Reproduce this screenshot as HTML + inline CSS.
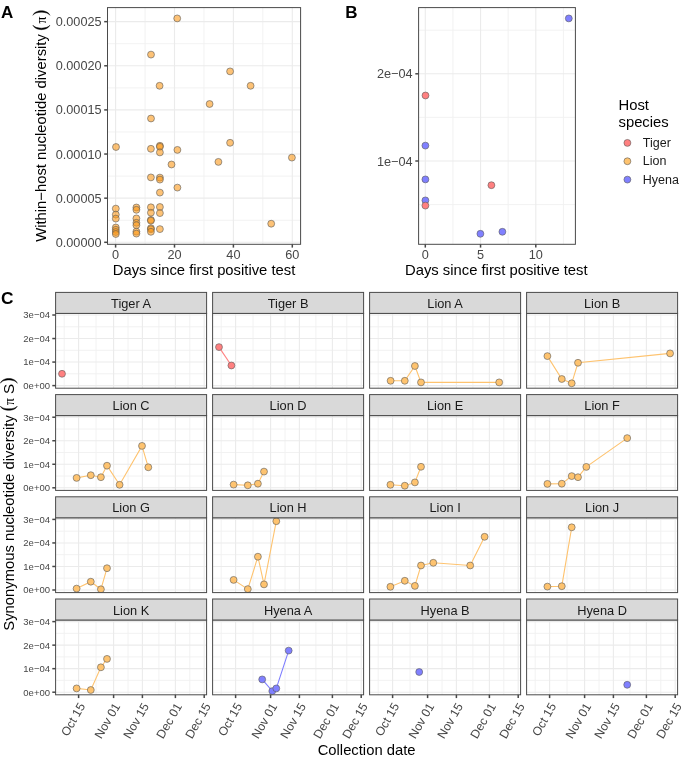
<!DOCTYPE html>
<html><head><meta charset="utf-8"><style>
html,body{margin:0;padding:0;background:#fff;}
body{width:685px;height:764px;overflow:hidden;}
svg{display:block;}
#w{will-change:transform;width:685px;height:764px;}
</style></head><body><div id="w">
<svg width="685" height="764" viewBox="0 0 685 764">
<rect width="685" height="764" fill="#fff"/>
<text x="1" y="18" font-family='"Liberation Sans", sans-serif' font-size="17" fill="#000" text-anchor="start" font-weight="bold" >A</text>
<text x="345.2" y="18" font-family='"Liberation Sans", sans-serif' font-size="17" fill="#000" text-anchor="start" font-weight="bold" >B</text>
<text x="1.1" y="304.4" font-family='"Liberation Sans", sans-serif' font-size="17.3" fill="#000" text-anchor="start" font-weight="bold" >C</text>
<line x1="145.05" y1="7.6" x2="145.05" y2="244.3" stroke="#F0F0F0" stroke-width="0.9"/>
<line x1="203.95" y1="7.6" x2="203.95" y2="244.3" stroke="#F0F0F0" stroke-width="0.9"/>
<line x1="262.85" y1="7.6" x2="262.85" y2="244.3" stroke="#F0F0F0" stroke-width="0.9"/>
<line x1="107.5" y1="220.24" x2="300.6" y2="220.24" stroke="#F0F0F0" stroke-width="0.9"/>
<line x1="107.5" y1="176.11" x2="300.6" y2="176.11" stroke="#F0F0F0" stroke-width="0.9"/>
<line x1="107.5" y1="131.98" x2="300.6" y2="131.98" stroke="#F0F0F0" stroke-width="0.9"/>
<line x1="107.5" y1="87.84" x2="300.6" y2="87.84" stroke="#F0F0F0" stroke-width="0.9"/>
<line x1="107.5" y1="43.72" x2="300.6" y2="43.72" stroke="#F0F0F0" stroke-width="0.9"/>
<line x1="115.6" y1="7.6" x2="115.6" y2="244.3" stroke="#EBEBEB" stroke-width="1.1"/>
<line x1="174.5" y1="7.6" x2="174.5" y2="244.3" stroke="#EBEBEB" stroke-width="1.1"/>
<line x1="233.4" y1="7.6" x2="233.4" y2="244.3" stroke="#EBEBEB" stroke-width="1.1"/>
<line x1="292.3" y1="7.6" x2="292.3" y2="244.3" stroke="#EBEBEB" stroke-width="1.1"/>
<line x1="107.5" y1="242.3" x2="300.6" y2="242.3" stroke="#EBEBEB" stroke-width="1.1"/>
<line x1="107.5" y1="198.17" x2="300.6" y2="198.17" stroke="#EBEBEB" stroke-width="1.1"/>
<line x1="107.5" y1="154.04" x2="300.6" y2="154.04" stroke="#EBEBEB" stroke-width="1.1"/>
<line x1="107.5" y1="109.91" x2="300.6" y2="109.91" stroke="#EBEBEB" stroke-width="1.1"/>
<line x1="107.5" y1="65.78" x2="300.6" y2="65.78" stroke="#EBEBEB" stroke-width="1.1"/>
<line x1="107.5" y1="21.65" x2="300.6" y2="21.65" stroke="#EBEBEB" stroke-width="1.1"/>
<circle cx="177.2" cy="18.4" r="3.45" fill="#FB9A1A" fill-opacity="0.6" stroke="#5A5A5A" stroke-width="0.6"/>
<circle cx="151" cy="54.6" r="3.45" fill="#FB9A1A" fill-opacity="0.6" stroke="#5A5A5A" stroke-width="0.6"/>
<circle cx="159.6" cy="85.8" r="3.45" fill="#FB9A1A" fill-opacity="0.6" stroke="#5A5A5A" stroke-width="0.6"/>
<circle cx="151" cy="118.5" r="3.45" fill="#FB9A1A" fill-opacity="0.6" stroke="#5A5A5A" stroke-width="0.6"/>
<circle cx="209.6" cy="104" r="3.45" fill="#FB9A1A" fill-opacity="0.6" stroke="#5A5A5A" stroke-width="0.6"/>
<circle cx="230.1" cy="71.4" r="3.45" fill="#FB9A1A" fill-opacity="0.6" stroke="#5A5A5A" stroke-width="0.6"/>
<circle cx="250.6" cy="85.8" r="3.45" fill="#FB9A1A" fill-opacity="0.6" stroke="#5A5A5A" stroke-width="0.6"/>
<circle cx="116" cy="147" r="3.45" fill="#FB9A1A" fill-opacity="0.6" stroke="#5A5A5A" stroke-width="0.6"/>
<circle cx="150.9" cy="148.8" r="3.45" fill="#FB9A1A" fill-opacity="0.6" stroke="#5A5A5A" stroke-width="0.6"/>
<circle cx="159.9" cy="145.8" r="3.45" fill="#FB9A1A" fill-opacity="0.6" stroke="#5A5A5A" stroke-width="0.6"/>
<circle cx="159.9" cy="146.8" r="3.45" fill="#FB9A1A" fill-opacity="0.6" stroke="#5A5A5A" stroke-width="0.6"/>
<circle cx="159.9" cy="152.4" r="3.45" fill="#FB9A1A" fill-opacity="0.6" stroke="#5A5A5A" stroke-width="0.6"/>
<circle cx="177.4" cy="149.9" r="3.45" fill="#FB9A1A" fill-opacity="0.6" stroke="#5A5A5A" stroke-width="0.6"/>
<circle cx="171.5" cy="164.5" r="3.45" fill="#FB9A1A" fill-opacity="0.6" stroke="#5A5A5A" stroke-width="0.6"/>
<circle cx="218.4" cy="161.9" r="3.45" fill="#FB9A1A" fill-opacity="0.6" stroke="#5A5A5A" stroke-width="0.6"/>
<circle cx="230.1" cy="142.8" r="3.45" fill="#FB9A1A" fill-opacity="0.6" stroke="#5A5A5A" stroke-width="0.6"/>
<circle cx="150.9" cy="177.4" r="3.45" fill="#FB9A1A" fill-opacity="0.6" stroke="#5A5A5A" stroke-width="0.6"/>
<circle cx="159.9" cy="177.6" r="3.45" fill="#FB9A1A" fill-opacity="0.6" stroke="#5A5A5A" stroke-width="0.6"/>
<circle cx="159.9" cy="179.6" r="3.45" fill="#FB9A1A" fill-opacity="0.6" stroke="#5A5A5A" stroke-width="0.6"/>
<circle cx="177.4" cy="187.6" r="3.45" fill="#FB9A1A" fill-opacity="0.6" stroke="#5A5A5A" stroke-width="0.6"/>
<circle cx="291.9" cy="157.6" r="3.45" fill="#FB9A1A" fill-opacity="0.6" stroke="#5A5A5A" stroke-width="0.6"/>
<circle cx="271.2" cy="223.7" r="3.45" fill="#FB9A1A" fill-opacity="0.6" stroke="#5A5A5A" stroke-width="0.6"/>
<circle cx="115.8" cy="208.6" r="3.45" fill="#FB9A1A" fill-opacity="0.6" stroke="#5A5A5A" stroke-width="0.6"/>
<circle cx="115.8" cy="214.6" r="3.45" fill="#FB9A1A" fill-opacity="0.6" stroke="#5A5A5A" stroke-width="0.6"/>
<circle cx="115.8" cy="218.6" r="3.45" fill="#FB9A1A" fill-opacity="0.6" stroke="#5A5A5A" stroke-width="0.6"/>
<circle cx="115.8" cy="227.5" r="3.45" fill="#FB9A1A" fill-opacity="0.6" stroke="#5A5A5A" stroke-width="0.6"/>
<circle cx="115.8" cy="229.8" r="3.45" fill="#FB9A1A" fill-opacity="0.6" stroke="#5A5A5A" stroke-width="0.6"/>
<circle cx="115.8" cy="232" r="3.45" fill="#FB9A1A" fill-opacity="0.6" stroke="#5A5A5A" stroke-width="0.6"/>
<circle cx="115.8" cy="234" r="3.45" fill="#FB9A1A" fill-opacity="0.6" stroke="#5A5A5A" stroke-width="0.6"/>
<circle cx="136.4" cy="207.5" r="3.45" fill="#FB9A1A" fill-opacity="0.6" stroke="#5A5A5A" stroke-width="0.6"/>
<circle cx="136.4" cy="209.8" r="3.45" fill="#FB9A1A" fill-opacity="0.6" stroke="#5A5A5A" stroke-width="0.6"/>
<circle cx="136.4" cy="218.4" r="3.45" fill="#FB9A1A" fill-opacity="0.6" stroke="#5A5A5A" stroke-width="0.6"/>
<circle cx="136.4" cy="222.8" r="3.45" fill="#FB9A1A" fill-opacity="0.6" stroke="#5A5A5A" stroke-width="0.6"/>
<circle cx="136.4" cy="225.2" r="3.45" fill="#FB9A1A" fill-opacity="0.6" stroke="#5A5A5A" stroke-width="0.6"/>
<circle cx="136.4" cy="231.6" r="3.45" fill="#FB9A1A" fill-opacity="0.6" stroke="#5A5A5A" stroke-width="0.6"/>
<circle cx="136.4" cy="233.6" r="3.45" fill="#FB9A1A" fill-opacity="0.6" stroke="#5A5A5A" stroke-width="0.6"/>
<circle cx="150.9" cy="207.3" r="3.45" fill="#FB9A1A" fill-opacity="0.6" stroke="#5A5A5A" stroke-width="0.6"/>
<circle cx="150.9" cy="212.7" r="3.45" fill="#FB9A1A" fill-opacity="0.6" stroke="#5A5A5A" stroke-width="0.6"/>
<circle cx="150.9" cy="219.9" r="3.45" fill="#FB9A1A" fill-opacity="0.6" stroke="#5A5A5A" stroke-width="0.6"/>
<circle cx="150.9" cy="220.7" r="3.45" fill="#FB9A1A" fill-opacity="0.6" stroke="#5A5A5A" stroke-width="0.6"/>
<circle cx="150.9" cy="228.2" r="3.45" fill="#FB9A1A" fill-opacity="0.6" stroke="#5A5A5A" stroke-width="0.6"/>
<circle cx="150.9" cy="229.2" r="3.45" fill="#FB9A1A" fill-opacity="0.6" stroke="#5A5A5A" stroke-width="0.6"/>
<circle cx="150.9" cy="231.8" r="3.45" fill="#FB9A1A" fill-opacity="0.6" stroke="#5A5A5A" stroke-width="0.6"/>
<circle cx="159.9" cy="192.6" r="3.45" fill="#FB9A1A" fill-opacity="0.6" stroke="#5A5A5A" stroke-width="0.6"/>
<circle cx="159.9" cy="207" r="3.45" fill="#FB9A1A" fill-opacity="0.6" stroke="#5A5A5A" stroke-width="0.6"/>
<circle cx="159.9" cy="213.1" r="3.45" fill="#FB9A1A" fill-opacity="0.6" stroke="#5A5A5A" stroke-width="0.6"/>
<circle cx="159.9" cy="229.1" r="3.45" fill="#FB9A1A" fill-opacity="0.6" stroke="#5A5A5A" stroke-width="0.6"/>
<rect x="107.5" y="7.6" width="193.1" height="236.7" fill="none" stroke="#4A4A4A" stroke-width="1.0"/>
<line x1="104.2" y1="242.3" x2="107.5" y2="242.3" stroke="#474747" stroke-width="1.5"/>
<text x="101.6" y="246.85" font-family='"Liberation Sans", sans-serif' font-size="12.7" fill="#474747" text-anchor="end" font-weight="normal" >0.00000</text>
<line x1="104.2" y1="198.17" x2="107.5" y2="198.17" stroke="#474747" stroke-width="1.5"/>
<text x="101.6" y="202.72" font-family='"Liberation Sans", sans-serif' font-size="12.7" fill="#474747" text-anchor="end" font-weight="normal" >0.00005</text>
<line x1="104.2" y1="154.04" x2="107.5" y2="154.04" stroke="#474747" stroke-width="1.5"/>
<text x="101.6" y="158.59" font-family='"Liberation Sans", sans-serif' font-size="12.7" fill="#474747" text-anchor="end" font-weight="normal" >0.00010</text>
<line x1="104.2" y1="109.91" x2="107.5" y2="109.91" stroke="#474747" stroke-width="1.5"/>
<text x="101.6" y="114.46" font-family='"Liberation Sans", sans-serif' font-size="12.7" fill="#474747" text-anchor="end" font-weight="normal" >0.00015</text>
<line x1="104.2" y1="65.78" x2="107.5" y2="65.78" stroke="#474747" stroke-width="1.5"/>
<text x="101.6" y="70.33" font-family='"Liberation Sans", sans-serif' font-size="12.7" fill="#474747" text-anchor="end" font-weight="normal" >0.00020</text>
<line x1="104.2" y1="21.65" x2="107.5" y2="21.65" stroke="#474747" stroke-width="1.5"/>
<text x="101.6" y="26.2" font-family='"Liberation Sans", sans-serif' font-size="12.7" fill="#474747" text-anchor="end" font-weight="normal" >0.00025</text>
<line x1="115.6" y1="244.3" x2="115.6" y2="247.6" stroke="#474747" stroke-width="1.5"/>
<text x="115.6" y="259" font-family='"Liberation Sans", sans-serif' font-size="12.7" fill="#474747" text-anchor="middle" font-weight="normal" >0</text>
<line x1="174.5" y1="244.3" x2="174.5" y2="247.6" stroke="#474747" stroke-width="1.5"/>
<text x="174.5" y="259" font-family='"Liberation Sans", sans-serif' font-size="12.7" fill="#474747" text-anchor="middle" font-weight="normal" >20</text>
<line x1="233.4" y1="244.3" x2="233.4" y2="247.6" stroke="#474747" stroke-width="1.5"/>
<text x="233.4" y="259" font-family='"Liberation Sans", sans-serif' font-size="12.7" fill="#474747" text-anchor="middle" font-weight="normal" >40</text>
<line x1="292.3" y1="244.3" x2="292.3" y2="247.6" stroke="#474747" stroke-width="1.5"/>
<text x="292.3" y="259" font-family='"Liberation Sans", sans-serif' font-size="12.7" fill="#474747" text-anchor="middle" font-weight="normal" >60</text>
<text x="204" y="274.6" font-family='"Liberation Sans", sans-serif' font-size="14.8" fill="#000" text-anchor="middle" font-weight="normal" >Days since first positive test</text>
<g transform="translate(45.6,241.8) rotate(-90)">
<text x="0" y="0" font-family='"Liberation Sans", sans-serif' font-size="14.8" fill="#000" text-anchor="start" font-weight="normal" >Within−host nucleotide diversity</text>
</g>
<line x1="452.93" y1="7.6" x2="452.93" y2="244.3" stroke="#F0F0F0" stroke-width="0.9"/>
<line x1="508.18" y1="7.6" x2="508.18" y2="244.3" stroke="#F0F0F0" stroke-width="0.9"/>
<line x1="563.42" y1="7.6" x2="563.42" y2="244.3" stroke="#F0F0F0" stroke-width="0.9"/>
<line x1="418.6" y1="204.6" x2="575.4" y2="204.6" stroke="#F0F0F0" stroke-width="0.9"/>
<line x1="418.6" y1="117.4" x2="575.4" y2="117.4" stroke="#F0F0F0" stroke-width="0.9"/>
<line x1="418.6" y1="30.2" x2="575.4" y2="30.2" stroke="#F0F0F0" stroke-width="0.9"/>
<line x1="425.3" y1="7.6" x2="425.3" y2="244.3" stroke="#EBEBEB" stroke-width="1.1"/>
<line x1="480.55" y1="7.6" x2="480.55" y2="244.3" stroke="#EBEBEB" stroke-width="1.1"/>
<line x1="535.8" y1="7.6" x2="535.8" y2="244.3" stroke="#EBEBEB" stroke-width="1.1"/>
<line x1="418.6" y1="161" x2="575.4" y2="161" stroke="#EBEBEB" stroke-width="1.1"/>
<line x1="418.6" y1="73.8" x2="575.4" y2="73.8" stroke="#EBEBEB" stroke-width="1.1"/>
<circle cx="425.5" cy="95.5" r="3.45" fill="#FF8080" stroke="#5A5A5A" stroke-width="0.6"/>
<circle cx="425.4" cy="145.6" r="3.45" fill="#8080FF" stroke="#5A5A5A" stroke-width="0.6"/>
<circle cx="425.4" cy="179.4" r="3.45" fill="#8080FF" stroke="#5A5A5A" stroke-width="0.6"/>
<circle cx="425.4" cy="200.4" r="3.45" fill="#8080FF" stroke="#5A5A5A" stroke-width="0.6"/>
<circle cx="425.4" cy="205.6" r="3.45" fill="#FF8080" stroke="#5A5A5A" stroke-width="0.6"/>
<circle cx="491.4" cy="185.2" r="3.45" fill="#FF8080" stroke="#5A5A5A" stroke-width="0.6"/>
<circle cx="480.4" cy="233.8" r="3.45" fill="#8080FF" stroke="#5A5A5A" stroke-width="0.6"/>
<circle cx="502.4" cy="231.8" r="3.45" fill="#8080FF" stroke="#5A5A5A" stroke-width="0.6"/>
<circle cx="568.8" cy="18.4" r="3.45" fill="#8080FF" stroke="#5A5A5A" stroke-width="0.6"/>
<rect x="418.6" y="7.6" width="156.8" height="236.7" fill="none" stroke="#4A4A4A" stroke-width="1.0"/>
<line x1="415.3" y1="161" x2="418.6" y2="161" stroke="#474747" stroke-width="1.5"/>
<text x="412.6" y="165.55" font-family='"Liberation Sans", sans-serif' font-size="12.7" fill="#474747" text-anchor="end" font-weight="normal" >1e−04</text>
<line x1="415.3" y1="73.8" x2="418.6" y2="73.8" stroke="#474747" stroke-width="1.5"/>
<text x="412.6" y="78.35" font-family='"Liberation Sans", sans-serif' font-size="12.7" fill="#474747" text-anchor="end" font-weight="normal" >2e−04</text>
<line x1="425.3" y1="244.3" x2="425.3" y2="247.6" stroke="#474747" stroke-width="1.5"/>
<text x="425.3" y="259" font-family='"Liberation Sans", sans-serif' font-size="12.7" fill="#474747" text-anchor="middle" font-weight="normal" >0</text>
<line x1="480.55" y1="244.3" x2="480.55" y2="247.6" stroke="#474747" stroke-width="1.5"/>
<text x="480.55" y="259" font-family='"Liberation Sans", sans-serif' font-size="12.7" fill="#474747" text-anchor="middle" font-weight="normal" >5</text>
<line x1="535.8" y1="244.3" x2="535.8" y2="247.6" stroke="#474747" stroke-width="1.5"/>
<text x="535.8" y="259" font-family='"Liberation Sans", sans-serif' font-size="12.7" fill="#474747" text-anchor="middle" font-weight="normal" >10</text>
<text x="496.3" y="275.2" font-family='"Liberation Sans", sans-serif' font-size="14.8" fill="#000" text-anchor="middle" font-weight="normal" >Days since first positive test</text>
<text x="618.5" y="109.9" font-family='"Liberation Sans", sans-serif' font-size="14.8" fill="#000" text-anchor="start" font-weight="normal" >Host</text>
<text x="618.5" y="126.6" font-family='"Liberation Sans", sans-serif' font-size="14.8" fill="#000" text-anchor="start" font-weight="normal" >species</text>
<circle cx="627.4" cy="142.9" r="3.45" fill="#FF8080" stroke="#5A5A5A" stroke-width="0.6"/>
<text x="642.8" y="147" font-family='"Liberation Sans", sans-serif' font-size="12.5" fill="#1A1A1A" text-anchor="start" font-weight="normal" >Tiger</text>
<circle cx="627.4" cy="161.25" r="3.45" fill="#FEC36F" stroke="#5A5A5A" stroke-width="0.6"/>
<text x="642.8" y="165.35" font-family='"Liberation Sans", sans-serif' font-size="12.5" fill="#1A1A1A" text-anchor="start" font-weight="normal" >Lion</text>
<circle cx="627.4" cy="179.6" r="3.45" fill="#8080FF" stroke="#5A5A5A" stroke-width="0.6"/>
<text x="642.8" y="183.7" font-family='"Liberation Sans", sans-serif' font-size="12.5" fill="#1A1A1A" text-anchor="start" font-weight="normal" >Hyena</text>
<defs>
<clipPath id="cp0"><rect x="55.6" y="313.4" width="151.0" height="74.8"/></clipPath>
<clipPath id="cp1"><rect x="212.6" y="313.4" width="151.0" height="74.8"/></clipPath>
<clipPath id="cp2"><rect x="369.6" y="313.4" width="151.0" height="74.8"/></clipPath>
<clipPath id="cp3"><rect x="526.6" y="313.4" width="151.0" height="74.8"/></clipPath>
<clipPath id="cp4"><rect x="55.6" y="415.6" width="151.0" height="74.8"/></clipPath>
<clipPath id="cp5"><rect x="212.6" y="415.6" width="151.0" height="74.8"/></clipPath>
<clipPath id="cp6"><rect x="369.6" y="415.6" width="151.0" height="74.8"/></clipPath>
<clipPath id="cp7"><rect x="526.6" y="415.6" width="151.0" height="74.8"/></clipPath>
<clipPath id="cp8"><rect x="55.6" y="517.8" width="151.0" height="74.8"/></clipPath>
<clipPath id="cp9"><rect x="212.6" y="517.8" width="151.0" height="74.8"/></clipPath>
<clipPath id="cp10"><rect x="369.6" y="517.8" width="151.0" height="74.8"/></clipPath>
<clipPath id="cp11"><rect x="526.6" y="517.8" width="151.0" height="74.8"/></clipPath>
<clipPath id="cp12"><rect x="55.6" y="620.0" width="151.0" height="74.8"/></clipPath>
<clipPath id="cp13"><rect x="212.6" y="620.0" width="151.0" height="74.8"/></clipPath>
<clipPath id="cp14"><rect x="369.6" y="620.0" width="151.0" height="74.8"/></clipPath>
<clipPath id="cp15"><rect x="526.6" y="620.0" width="151.0" height="74.8"/></clipPath>
</defs>
<line x1="64.2" y1="313.4" x2="64.2" y2="388.2" stroke="#F0F0F0" stroke-width="0.9"/>
<line x1="96.1" y1="313.4" x2="96.1" y2="388.2" stroke="#F0F0F0" stroke-width="0.9"/>
<line x1="128" y1="313.4" x2="128" y2="388.2" stroke="#F0F0F0" stroke-width="0.9"/>
<line x1="158.9" y1="313.4" x2="158.9" y2="388.2" stroke="#F0F0F0" stroke-width="0.9"/>
<line x1="189.8" y1="313.4" x2="189.8" y2="388.2" stroke="#F0F0F0" stroke-width="0.9"/>
<line x1="55.6" y1="373.8" x2="206.6" y2="373.8" stroke="#F0F0F0" stroke-width="0.9"/>
<line x1="55.6" y1="350.3" x2="206.6" y2="350.3" stroke="#F0F0F0" stroke-width="0.9"/>
<line x1="55.6" y1="326.8" x2="206.6" y2="326.8" stroke="#F0F0F0" stroke-width="0.9"/>
<line x1="78.6" y1="313.4" x2="78.6" y2="388.2" stroke="#EBEBEB" stroke-width="1.1"/>
<line x1="113.6" y1="313.4" x2="113.6" y2="388.2" stroke="#EBEBEB" stroke-width="1.1"/>
<line x1="142.4" y1="313.4" x2="142.4" y2="388.2" stroke="#EBEBEB" stroke-width="1.1"/>
<line x1="175.4" y1="313.4" x2="175.4" y2="388.2" stroke="#EBEBEB" stroke-width="1.1"/>
<line x1="204.2" y1="313.4" x2="204.2" y2="388.2" stroke="#EBEBEB" stroke-width="1.1"/>
<line x1="55.6" y1="385.6" x2="206.6" y2="385.6" stroke="#EBEBEB" stroke-width="1.1"/>
<line x1="55.6" y1="362.07" x2="206.6" y2="362.07" stroke="#EBEBEB" stroke-width="1.1"/>
<line x1="55.6" y1="338.54" x2="206.6" y2="338.54" stroke="#EBEBEB" stroke-width="1.1"/>
<line x1="55.6" y1="315.01" x2="206.6" y2="315.01" stroke="#EBEBEB" stroke-width="1.1"/>
<g clip-path="url(#cp0)">
<circle cx="62" cy="373.8" r="3.45" fill="#FF8080" stroke="#5A5A5A" stroke-width="0.6"/>
</g>
<rect x="55.6" y="313.4" width="151.0" height="74.8" fill="none" stroke="#4A4A4A" stroke-width="1.0"/>
<rect x="55.6" y="292.4" width="151.0" height="21.0" fill="#D9D9D9" stroke="#4A4A4A" stroke-width="1.0"/>
<text x="131.1" y="307.9" font-family='"Liberation Sans", sans-serif' font-size="12.8" fill="#1A1A1A" text-anchor="middle" font-weight="normal" >Tiger A</text>
<line x1="52.3" y1="385.6" x2="55.6" y2="385.6" stroke="#474747" stroke-width="1.5"/>
<text x="50" y="389" font-family='"Liberation Sans", sans-serif' font-size="9.5" fill="#474747" text-anchor="end" font-weight="normal" >0e+00</text>
<line x1="52.3" y1="362.07" x2="55.6" y2="362.07" stroke="#474747" stroke-width="1.5"/>
<text x="50" y="365.47" font-family='"Liberation Sans", sans-serif' font-size="9.5" fill="#474747" text-anchor="end" font-weight="normal" >1e−04</text>
<line x1="52.3" y1="338.54" x2="55.6" y2="338.54" stroke="#474747" stroke-width="1.5"/>
<text x="50" y="341.94" font-family='"Liberation Sans", sans-serif' font-size="9.5" fill="#474747" text-anchor="end" font-weight="normal" >2e−04</text>
<line x1="52.3" y1="315.01" x2="55.6" y2="315.01" stroke="#474747" stroke-width="1.5"/>
<text x="50" y="318.41" font-family='"Liberation Sans", sans-serif' font-size="9.5" fill="#474747" text-anchor="end" font-weight="normal" >3e−04</text>
<line x1="221.2" y1="313.4" x2="221.2" y2="388.2" stroke="#F0F0F0" stroke-width="0.9"/>
<line x1="253.1" y1="313.4" x2="253.1" y2="388.2" stroke="#F0F0F0" stroke-width="0.9"/>
<line x1="285" y1="313.4" x2="285" y2="388.2" stroke="#F0F0F0" stroke-width="0.9"/>
<line x1="315.9" y1="313.4" x2="315.9" y2="388.2" stroke="#F0F0F0" stroke-width="0.9"/>
<line x1="346.8" y1="313.4" x2="346.8" y2="388.2" stroke="#F0F0F0" stroke-width="0.9"/>
<line x1="212.6" y1="373.8" x2="363.6" y2="373.8" stroke="#F0F0F0" stroke-width="0.9"/>
<line x1="212.6" y1="350.3" x2="363.6" y2="350.3" stroke="#F0F0F0" stroke-width="0.9"/>
<line x1="212.6" y1="326.8" x2="363.6" y2="326.8" stroke="#F0F0F0" stroke-width="0.9"/>
<line x1="235.6" y1="313.4" x2="235.6" y2="388.2" stroke="#EBEBEB" stroke-width="1.1"/>
<line x1="270.6" y1="313.4" x2="270.6" y2="388.2" stroke="#EBEBEB" stroke-width="1.1"/>
<line x1="299.4" y1="313.4" x2="299.4" y2="388.2" stroke="#EBEBEB" stroke-width="1.1"/>
<line x1="332.4" y1="313.4" x2="332.4" y2="388.2" stroke="#EBEBEB" stroke-width="1.1"/>
<line x1="361.2" y1="313.4" x2="361.2" y2="388.2" stroke="#EBEBEB" stroke-width="1.1"/>
<line x1="212.6" y1="385.6" x2="363.6" y2="385.6" stroke="#EBEBEB" stroke-width="1.1"/>
<line x1="212.6" y1="362.07" x2="363.6" y2="362.07" stroke="#EBEBEB" stroke-width="1.1"/>
<line x1="212.6" y1="338.54" x2="363.6" y2="338.54" stroke="#EBEBEB" stroke-width="1.1"/>
<line x1="212.6" y1="315.01" x2="363.6" y2="315.01" stroke="#EBEBEB" stroke-width="1.1"/>
<g clip-path="url(#cp1)">
<polyline points="219,347.1 231.4,365.5" fill="none" stroke="#FF8080" stroke-width="1.1"/>
<circle cx="219" cy="347.1" r="3.45" fill="#FF8080" stroke="#5A5A5A" stroke-width="0.6"/>
<circle cx="231.4" cy="365.5" r="3.45" fill="#FF8080" stroke="#5A5A5A" stroke-width="0.6"/>
</g>
<rect x="212.6" y="313.4" width="151.0" height="74.8" fill="none" stroke="#4A4A4A" stroke-width="1.0"/>
<rect x="212.6" y="292.4" width="151.0" height="21.0" fill="#D9D9D9" stroke="#4A4A4A" stroke-width="1.0"/>
<text x="288.1" y="307.9" font-family='"Liberation Sans", sans-serif' font-size="12.8" fill="#1A1A1A" text-anchor="middle" font-weight="normal" >Tiger B</text>
<line x1="378.2" y1="313.4" x2="378.2" y2="388.2" stroke="#F0F0F0" stroke-width="0.9"/>
<line x1="410.1" y1="313.4" x2="410.1" y2="388.2" stroke="#F0F0F0" stroke-width="0.9"/>
<line x1="442" y1="313.4" x2="442" y2="388.2" stroke="#F0F0F0" stroke-width="0.9"/>
<line x1="472.9" y1="313.4" x2="472.9" y2="388.2" stroke="#F0F0F0" stroke-width="0.9"/>
<line x1="503.8" y1="313.4" x2="503.8" y2="388.2" stroke="#F0F0F0" stroke-width="0.9"/>
<line x1="369.6" y1="373.8" x2="520.6" y2="373.8" stroke="#F0F0F0" stroke-width="0.9"/>
<line x1="369.6" y1="350.3" x2="520.6" y2="350.3" stroke="#F0F0F0" stroke-width="0.9"/>
<line x1="369.6" y1="326.8" x2="520.6" y2="326.8" stroke="#F0F0F0" stroke-width="0.9"/>
<line x1="392.6" y1="313.4" x2="392.6" y2="388.2" stroke="#EBEBEB" stroke-width="1.1"/>
<line x1="427.6" y1="313.4" x2="427.6" y2="388.2" stroke="#EBEBEB" stroke-width="1.1"/>
<line x1="456.4" y1="313.4" x2="456.4" y2="388.2" stroke="#EBEBEB" stroke-width="1.1"/>
<line x1="489.4" y1="313.4" x2="489.4" y2="388.2" stroke="#EBEBEB" stroke-width="1.1"/>
<line x1="518.2" y1="313.4" x2="518.2" y2="388.2" stroke="#EBEBEB" stroke-width="1.1"/>
<line x1="369.6" y1="385.6" x2="520.6" y2="385.6" stroke="#EBEBEB" stroke-width="1.1"/>
<line x1="369.6" y1="362.07" x2="520.6" y2="362.07" stroke="#EBEBEB" stroke-width="1.1"/>
<line x1="369.6" y1="338.54" x2="520.6" y2="338.54" stroke="#EBEBEB" stroke-width="1.1"/>
<line x1="369.6" y1="315.01" x2="520.6" y2="315.01" stroke="#EBEBEB" stroke-width="1.1"/>
<g clip-path="url(#cp2)">
<polyline points="390.6,380.8 404.8,380.8 414.9,366 421,382.4 499.2,382.4" fill="none" stroke="#FEC36F" stroke-width="1.1"/>
<circle cx="390.6" cy="380.8" r="3.45" fill="#FEC36F" stroke="#5A5A5A" stroke-width="0.6"/>
<circle cx="404.8" cy="380.8" r="3.45" fill="#FEC36F" stroke="#5A5A5A" stroke-width="0.6"/>
<circle cx="414.9" cy="366" r="3.45" fill="#FEC36F" stroke="#5A5A5A" stroke-width="0.6"/>
<circle cx="421" cy="382.4" r="3.45" fill="#FEC36F" stroke="#5A5A5A" stroke-width="0.6"/>
<circle cx="499.2" cy="382.4" r="3.45" fill="#FEC36F" stroke="#5A5A5A" stroke-width="0.6"/>
</g>
<rect x="369.6" y="313.4" width="151.0" height="74.8" fill="none" stroke="#4A4A4A" stroke-width="1.0"/>
<rect x="369.6" y="292.4" width="151.0" height="21.0" fill="#D9D9D9" stroke="#4A4A4A" stroke-width="1.0"/>
<text x="445.1" y="307.9" font-family='"Liberation Sans", sans-serif' font-size="12.8" fill="#1A1A1A" text-anchor="middle" font-weight="normal" >Lion A</text>
<line x1="535.2" y1="313.4" x2="535.2" y2="388.2" stroke="#F0F0F0" stroke-width="0.9"/>
<line x1="567.1" y1="313.4" x2="567.1" y2="388.2" stroke="#F0F0F0" stroke-width="0.9"/>
<line x1="599" y1="313.4" x2="599" y2="388.2" stroke="#F0F0F0" stroke-width="0.9"/>
<line x1="629.9" y1="313.4" x2="629.9" y2="388.2" stroke="#F0F0F0" stroke-width="0.9"/>
<line x1="660.8" y1="313.4" x2="660.8" y2="388.2" stroke="#F0F0F0" stroke-width="0.9"/>
<line x1="526.6" y1="373.8" x2="677.6" y2="373.8" stroke="#F0F0F0" stroke-width="0.9"/>
<line x1="526.6" y1="350.3" x2="677.6" y2="350.3" stroke="#F0F0F0" stroke-width="0.9"/>
<line x1="526.6" y1="326.8" x2="677.6" y2="326.8" stroke="#F0F0F0" stroke-width="0.9"/>
<line x1="549.6" y1="313.4" x2="549.6" y2="388.2" stroke="#EBEBEB" stroke-width="1.1"/>
<line x1="584.6" y1="313.4" x2="584.6" y2="388.2" stroke="#EBEBEB" stroke-width="1.1"/>
<line x1="613.4" y1="313.4" x2="613.4" y2="388.2" stroke="#EBEBEB" stroke-width="1.1"/>
<line x1="646.4" y1="313.4" x2="646.4" y2="388.2" stroke="#EBEBEB" stroke-width="1.1"/>
<line x1="675.2" y1="313.4" x2="675.2" y2="388.2" stroke="#EBEBEB" stroke-width="1.1"/>
<line x1="526.6" y1="385.6" x2="677.6" y2="385.6" stroke="#EBEBEB" stroke-width="1.1"/>
<line x1="526.6" y1="362.07" x2="677.6" y2="362.07" stroke="#EBEBEB" stroke-width="1.1"/>
<line x1="526.6" y1="338.54" x2="677.6" y2="338.54" stroke="#EBEBEB" stroke-width="1.1"/>
<line x1="526.6" y1="315.01" x2="677.6" y2="315.01" stroke="#EBEBEB" stroke-width="1.1"/>
<g clip-path="url(#cp3)">
<polyline points="547.4,356.1 561.8,379 571.7,383.3 578,362.8 670.1,353.4" fill="none" stroke="#FEC36F" stroke-width="1.1"/>
<circle cx="547.4" cy="356.1" r="3.45" fill="#FEC36F" stroke="#5A5A5A" stroke-width="0.6"/>
<circle cx="561.8" cy="379" r="3.45" fill="#FEC36F" stroke="#5A5A5A" stroke-width="0.6"/>
<circle cx="571.7" cy="383.3" r="3.45" fill="#FEC36F" stroke="#5A5A5A" stroke-width="0.6"/>
<circle cx="578" cy="362.8" r="3.45" fill="#FEC36F" stroke="#5A5A5A" stroke-width="0.6"/>
<circle cx="670.1" cy="353.4" r="3.45" fill="#FEC36F" stroke="#5A5A5A" stroke-width="0.6"/>
</g>
<rect x="526.6" y="313.4" width="151.0" height="74.8" fill="none" stroke="#4A4A4A" stroke-width="1.0"/>
<rect x="526.6" y="292.4" width="151.0" height="21.0" fill="#D9D9D9" stroke="#4A4A4A" stroke-width="1.0"/>
<text x="602.1" y="307.9" font-family='"Liberation Sans", sans-serif' font-size="12.8" fill="#1A1A1A" text-anchor="middle" font-weight="normal" >Lion B</text>
<line x1="64.2" y1="415.6" x2="64.2" y2="490.4" stroke="#F0F0F0" stroke-width="0.9"/>
<line x1="96.1" y1="415.6" x2="96.1" y2="490.4" stroke="#F0F0F0" stroke-width="0.9"/>
<line x1="128" y1="415.6" x2="128" y2="490.4" stroke="#F0F0F0" stroke-width="0.9"/>
<line x1="158.9" y1="415.6" x2="158.9" y2="490.4" stroke="#F0F0F0" stroke-width="0.9"/>
<line x1="189.8" y1="415.6" x2="189.8" y2="490.4" stroke="#F0F0F0" stroke-width="0.9"/>
<line x1="55.6" y1="476" x2="206.6" y2="476" stroke="#F0F0F0" stroke-width="0.9"/>
<line x1="55.6" y1="452.5" x2="206.6" y2="452.5" stroke="#F0F0F0" stroke-width="0.9"/>
<line x1="55.6" y1="429" x2="206.6" y2="429" stroke="#F0F0F0" stroke-width="0.9"/>
<line x1="78.6" y1="415.6" x2="78.6" y2="490.4" stroke="#EBEBEB" stroke-width="1.1"/>
<line x1="113.6" y1="415.6" x2="113.6" y2="490.4" stroke="#EBEBEB" stroke-width="1.1"/>
<line x1="142.4" y1="415.6" x2="142.4" y2="490.4" stroke="#EBEBEB" stroke-width="1.1"/>
<line x1="175.4" y1="415.6" x2="175.4" y2="490.4" stroke="#EBEBEB" stroke-width="1.1"/>
<line x1="204.2" y1="415.6" x2="204.2" y2="490.4" stroke="#EBEBEB" stroke-width="1.1"/>
<line x1="55.6" y1="487.8" x2="206.6" y2="487.8" stroke="#EBEBEB" stroke-width="1.1"/>
<line x1="55.6" y1="464.27" x2="206.6" y2="464.27" stroke="#EBEBEB" stroke-width="1.1"/>
<line x1="55.6" y1="440.74" x2="206.6" y2="440.74" stroke="#EBEBEB" stroke-width="1.1"/>
<line x1="55.6" y1="417.21" x2="206.6" y2="417.21" stroke="#EBEBEB" stroke-width="1.1"/>
<g clip-path="url(#cp4)">
<polyline points="76.6,477.9 90.8,475.2 100.9,477.2 107,465.7 119.6,484.8 142,445.9 148.3,467.3" fill="none" stroke="#FEC36F" stroke-width="1.1"/>
<circle cx="76.6" cy="477.9" r="3.45" fill="#FEC36F" stroke="#5A5A5A" stroke-width="0.6"/>
<circle cx="90.8" cy="475.2" r="3.45" fill="#FEC36F" stroke="#5A5A5A" stroke-width="0.6"/>
<circle cx="100.9" cy="477.2" r="3.45" fill="#FEC36F" stroke="#5A5A5A" stroke-width="0.6"/>
<circle cx="107" cy="465.7" r="3.45" fill="#FEC36F" stroke="#5A5A5A" stroke-width="0.6"/>
<circle cx="119.6" cy="484.8" r="3.45" fill="#FEC36F" stroke="#5A5A5A" stroke-width="0.6"/>
<circle cx="142" cy="445.9" r="3.45" fill="#FEC36F" stroke="#5A5A5A" stroke-width="0.6"/>
<circle cx="148.3" cy="467.3" r="3.45" fill="#FEC36F" stroke="#5A5A5A" stroke-width="0.6"/>
</g>
<rect x="55.6" y="415.6" width="151.0" height="74.8" fill="none" stroke="#4A4A4A" stroke-width="1.0"/>
<rect x="55.6" y="394.6" width="151.0" height="21.0" fill="#D9D9D9" stroke="#4A4A4A" stroke-width="1.0"/>
<text x="131.1" y="410.1" font-family='"Liberation Sans", sans-serif' font-size="12.8" fill="#1A1A1A" text-anchor="middle" font-weight="normal" >Lion C</text>
<line x1="52.3" y1="487.8" x2="55.6" y2="487.8" stroke="#474747" stroke-width="1.5"/>
<text x="50" y="491.2" font-family='"Liberation Sans", sans-serif' font-size="9.5" fill="#474747" text-anchor="end" font-weight="normal" >0e+00</text>
<line x1="52.3" y1="464.27" x2="55.6" y2="464.27" stroke="#474747" stroke-width="1.5"/>
<text x="50" y="467.67" font-family='"Liberation Sans", sans-serif' font-size="9.5" fill="#474747" text-anchor="end" font-weight="normal" >1e−04</text>
<line x1="52.3" y1="440.74" x2="55.6" y2="440.74" stroke="#474747" stroke-width="1.5"/>
<text x="50" y="444.14" font-family='"Liberation Sans", sans-serif' font-size="9.5" fill="#474747" text-anchor="end" font-weight="normal" >2e−04</text>
<line x1="52.3" y1="417.21" x2="55.6" y2="417.21" stroke="#474747" stroke-width="1.5"/>
<text x="50" y="420.61" font-family='"Liberation Sans", sans-serif' font-size="9.5" fill="#474747" text-anchor="end" font-weight="normal" >3e−04</text>
<line x1="221.2" y1="415.6" x2="221.2" y2="490.4" stroke="#F0F0F0" stroke-width="0.9"/>
<line x1="253.1" y1="415.6" x2="253.1" y2="490.4" stroke="#F0F0F0" stroke-width="0.9"/>
<line x1="285" y1="415.6" x2="285" y2="490.4" stroke="#F0F0F0" stroke-width="0.9"/>
<line x1="315.9" y1="415.6" x2="315.9" y2="490.4" stroke="#F0F0F0" stroke-width="0.9"/>
<line x1="346.8" y1="415.6" x2="346.8" y2="490.4" stroke="#F0F0F0" stroke-width="0.9"/>
<line x1="212.6" y1="476" x2="363.6" y2="476" stroke="#F0F0F0" stroke-width="0.9"/>
<line x1="212.6" y1="452.5" x2="363.6" y2="452.5" stroke="#F0F0F0" stroke-width="0.9"/>
<line x1="212.6" y1="429" x2="363.6" y2="429" stroke="#F0F0F0" stroke-width="0.9"/>
<line x1="235.6" y1="415.6" x2="235.6" y2="490.4" stroke="#EBEBEB" stroke-width="1.1"/>
<line x1="270.6" y1="415.6" x2="270.6" y2="490.4" stroke="#EBEBEB" stroke-width="1.1"/>
<line x1="299.4" y1="415.6" x2="299.4" y2="490.4" stroke="#EBEBEB" stroke-width="1.1"/>
<line x1="332.4" y1="415.6" x2="332.4" y2="490.4" stroke="#EBEBEB" stroke-width="1.1"/>
<line x1="361.2" y1="415.6" x2="361.2" y2="490.4" stroke="#EBEBEB" stroke-width="1.1"/>
<line x1="212.6" y1="487.8" x2="363.6" y2="487.8" stroke="#EBEBEB" stroke-width="1.1"/>
<line x1="212.6" y1="464.27" x2="363.6" y2="464.27" stroke="#EBEBEB" stroke-width="1.1"/>
<line x1="212.6" y1="440.74" x2="363.6" y2="440.74" stroke="#EBEBEB" stroke-width="1.1"/>
<line x1="212.6" y1="417.21" x2="363.6" y2="417.21" stroke="#EBEBEB" stroke-width="1.1"/>
<g clip-path="url(#cp5)">
<polyline points="233.6,484.6 247.8,485.3 257.9,483.7 264,471.6" fill="none" stroke="#FEC36F" stroke-width="1.1"/>
<circle cx="233.6" cy="484.6" r="3.45" fill="#FEC36F" stroke="#5A5A5A" stroke-width="0.6"/>
<circle cx="247.8" cy="485.3" r="3.45" fill="#FEC36F" stroke="#5A5A5A" stroke-width="0.6"/>
<circle cx="257.9" cy="483.7" r="3.45" fill="#FEC36F" stroke="#5A5A5A" stroke-width="0.6"/>
<circle cx="264" cy="471.6" r="3.45" fill="#FEC36F" stroke="#5A5A5A" stroke-width="0.6"/>
</g>
<rect x="212.6" y="415.6" width="151.0" height="74.8" fill="none" stroke="#4A4A4A" stroke-width="1.0"/>
<rect x="212.6" y="394.6" width="151.0" height="21.0" fill="#D9D9D9" stroke="#4A4A4A" stroke-width="1.0"/>
<text x="288.1" y="410.1" font-family='"Liberation Sans", sans-serif' font-size="12.8" fill="#1A1A1A" text-anchor="middle" font-weight="normal" >Lion D</text>
<line x1="378.2" y1="415.6" x2="378.2" y2="490.4" stroke="#F0F0F0" stroke-width="0.9"/>
<line x1="410.1" y1="415.6" x2="410.1" y2="490.4" stroke="#F0F0F0" stroke-width="0.9"/>
<line x1="442" y1="415.6" x2="442" y2="490.4" stroke="#F0F0F0" stroke-width="0.9"/>
<line x1="472.9" y1="415.6" x2="472.9" y2="490.4" stroke="#F0F0F0" stroke-width="0.9"/>
<line x1="503.8" y1="415.6" x2="503.8" y2="490.4" stroke="#F0F0F0" stroke-width="0.9"/>
<line x1="369.6" y1="476" x2="520.6" y2="476" stroke="#F0F0F0" stroke-width="0.9"/>
<line x1="369.6" y1="452.5" x2="520.6" y2="452.5" stroke="#F0F0F0" stroke-width="0.9"/>
<line x1="369.6" y1="429" x2="520.6" y2="429" stroke="#F0F0F0" stroke-width="0.9"/>
<line x1="392.6" y1="415.6" x2="392.6" y2="490.4" stroke="#EBEBEB" stroke-width="1.1"/>
<line x1="427.6" y1="415.6" x2="427.6" y2="490.4" stroke="#EBEBEB" stroke-width="1.1"/>
<line x1="456.4" y1="415.6" x2="456.4" y2="490.4" stroke="#EBEBEB" stroke-width="1.1"/>
<line x1="489.4" y1="415.6" x2="489.4" y2="490.4" stroke="#EBEBEB" stroke-width="1.1"/>
<line x1="518.2" y1="415.6" x2="518.2" y2="490.4" stroke="#EBEBEB" stroke-width="1.1"/>
<line x1="369.6" y1="487.8" x2="520.6" y2="487.8" stroke="#EBEBEB" stroke-width="1.1"/>
<line x1="369.6" y1="464.27" x2="520.6" y2="464.27" stroke="#EBEBEB" stroke-width="1.1"/>
<line x1="369.6" y1="440.74" x2="520.6" y2="440.74" stroke="#EBEBEB" stroke-width="1.1"/>
<line x1="369.6" y1="417.21" x2="520.6" y2="417.21" stroke="#EBEBEB" stroke-width="1.1"/>
<g clip-path="url(#cp6)">
<polyline points="390.4,484.8 404.8,485.7 414.9,482.4 421,466.8" fill="none" stroke="#FEC36F" stroke-width="1.1"/>
<circle cx="390.4" cy="484.8" r="3.45" fill="#FEC36F" stroke="#5A5A5A" stroke-width="0.6"/>
<circle cx="404.8" cy="485.7" r="3.45" fill="#FEC36F" stroke="#5A5A5A" stroke-width="0.6"/>
<circle cx="414.9" cy="482.4" r="3.45" fill="#FEC36F" stroke="#5A5A5A" stroke-width="0.6"/>
<circle cx="421" cy="466.8" r="3.45" fill="#FEC36F" stroke="#5A5A5A" stroke-width="0.6"/>
</g>
<rect x="369.6" y="415.6" width="151.0" height="74.8" fill="none" stroke="#4A4A4A" stroke-width="1.0"/>
<rect x="369.6" y="394.6" width="151.0" height="21.0" fill="#D9D9D9" stroke="#4A4A4A" stroke-width="1.0"/>
<text x="445.1" y="410.1" font-family='"Liberation Sans", sans-serif' font-size="12.8" fill="#1A1A1A" text-anchor="middle" font-weight="normal" >Lion E</text>
<line x1="535.2" y1="415.6" x2="535.2" y2="490.4" stroke="#F0F0F0" stroke-width="0.9"/>
<line x1="567.1" y1="415.6" x2="567.1" y2="490.4" stroke="#F0F0F0" stroke-width="0.9"/>
<line x1="599" y1="415.6" x2="599" y2="490.4" stroke="#F0F0F0" stroke-width="0.9"/>
<line x1="629.9" y1="415.6" x2="629.9" y2="490.4" stroke="#F0F0F0" stroke-width="0.9"/>
<line x1="660.8" y1="415.6" x2="660.8" y2="490.4" stroke="#F0F0F0" stroke-width="0.9"/>
<line x1="526.6" y1="476" x2="677.6" y2="476" stroke="#F0F0F0" stroke-width="0.9"/>
<line x1="526.6" y1="452.5" x2="677.6" y2="452.5" stroke="#F0F0F0" stroke-width="0.9"/>
<line x1="526.6" y1="429" x2="677.6" y2="429" stroke="#F0F0F0" stroke-width="0.9"/>
<line x1="549.6" y1="415.6" x2="549.6" y2="490.4" stroke="#EBEBEB" stroke-width="1.1"/>
<line x1="584.6" y1="415.6" x2="584.6" y2="490.4" stroke="#EBEBEB" stroke-width="1.1"/>
<line x1="613.4" y1="415.6" x2="613.4" y2="490.4" stroke="#EBEBEB" stroke-width="1.1"/>
<line x1="646.4" y1="415.6" x2="646.4" y2="490.4" stroke="#EBEBEB" stroke-width="1.1"/>
<line x1="675.2" y1="415.6" x2="675.2" y2="490.4" stroke="#EBEBEB" stroke-width="1.1"/>
<line x1="526.6" y1="487.8" x2="677.6" y2="487.8" stroke="#EBEBEB" stroke-width="1.1"/>
<line x1="526.6" y1="464.27" x2="677.6" y2="464.27" stroke="#EBEBEB" stroke-width="1.1"/>
<line x1="526.6" y1="440.74" x2="677.6" y2="440.74" stroke="#EBEBEB" stroke-width="1.1"/>
<line x1="526.6" y1="417.21" x2="677.6" y2="417.21" stroke="#EBEBEB" stroke-width="1.1"/>
<g clip-path="url(#cp7)">
<polyline points="547.4,483.9 561.8,483.7 571.7,476.1 578,477.2 586.3,466.9 627.2,438.1" fill="none" stroke="#FEC36F" stroke-width="1.1"/>
<circle cx="547.4" cy="483.9" r="3.45" fill="#FEC36F" stroke="#5A5A5A" stroke-width="0.6"/>
<circle cx="561.8" cy="483.7" r="3.45" fill="#FEC36F" stroke="#5A5A5A" stroke-width="0.6"/>
<circle cx="571.7" cy="476.1" r="3.45" fill="#FEC36F" stroke="#5A5A5A" stroke-width="0.6"/>
<circle cx="578" cy="477.2" r="3.45" fill="#FEC36F" stroke="#5A5A5A" stroke-width="0.6"/>
<circle cx="586.3" cy="466.9" r="3.45" fill="#FEC36F" stroke="#5A5A5A" stroke-width="0.6"/>
<circle cx="627.2" cy="438.1" r="3.45" fill="#FEC36F" stroke="#5A5A5A" stroke-width="0.6"/>
</g>
<rect x="526.6" y="415.6" width="151.0" height="74.8" fill="none" stroke="#4A4A4A" stroke-width="1.0"/>
<rect x="526.6" y="394.6" width="151.0" height="21.0" fill="#D9D9D9" stroke="#4A4A4A" stroke-width="1.0"/>
<text x="602.1" y="410.1" font-family='"Liberation Sans", sans-serif' font-size="12.8" fill="#1A1A1A" text-anchor="middle" font-weight="normal" >Lion F</text>
<line x1="64.2" y1="517.8" x2="64.2" y2="592.6" stroke="#F0F0F0" stroke-width="0.9"/>
<line x1="96.1" y1="517.8" x2="96.1" y2="592.6" stroke="#F0F0F0" stroke-width="0.9"/>
<line x1="128" y1="517.8" x2="128" y2="592.6" stroke="#F0F0F0" stroke-width="0.9"/>
<line x1="158.9" y1="517.8" x2="158.9" y2="592.6" stroke="#F0F0F0" stroke-width="0.9"/>
<line x1="189.8" y1="517.8" x2="189.8" y2="592.6" stroke="#F0F0F0" stroke-width="0.9"/>
<line x1="55.6" y1="578.2" x2="206.6" y2="578.2" stroke="#F0F0F0" stroke-width="0.9"/>
<line x1="55.6" y1="554.7" x2="206.6" y2="554.7" stroke="#F0F0F0" stroke-width="0.9"/>
<line x1="55.6" y1="531.2" x2="206.6" y2="531.2" stroke="#F0F0F0" stroke-width="0.9"/>
<line x1="78.6" y1="517.8" x2="78.6" y2="592.6" stroke="#EBEBEB" stroke-width="1.1"/>
<line x1="113.6" y1="517.8" x2="113.6" y2="592.6" stroke="#EBEBEB" stroke-width="1.1"/>
<line x1="142.4" y1="517.8" x2="142.4" y2="592.6" stroke="#EBEBEB" stroke-width="1.1"/>
<line x1="175.4" y1="517.8" x2="175.4" y2="592.6" stroke="#EBEBEB" stroke-width="1.1"/>
<line x1="204.2" y1="517.8" x2="204.2" y2="592.6" stroke="#EBEBEB" stroke-width="1.1"/>
<line x1="55.6" y1="590" x2="206.6" y2="590" stroke="#EBEBEB" stroke-width="1.1"/>
<line x1="55.6" y1="566.47" x2="206.6" y2="566.47" stroke="#EBEBEB" stroke-width="1.1"/>
<line x1="55.6" y1="542.94" x2="206.6" y2="542.94" stroke="#EBEBEB" stroke-width="1.1"/>
<line x1="55.6" y1="519.41" x2="206.6" y2="519.41" stroke="#EBEBEB" stroke-width="1.1"/>
<g clip-path="url(#cp8)">
<polyline points="76.6,588.6 90.8,581.7 100.9,589.3 107,568.2" fill="none" stroke="#FEC36F" stroke-width="1.1"/>
<circle cx="76.6" cy="588.6" r="3.45" fill="#FEC36F" stroke="#5A5A5A" stroke-width="0.6"/>
<circle cx="90.8" cy="581.7" r="3.45" fill="#FEC36F" stroke="#5A5A5A" stroke-width="0.6"/>
<circle cx="100.9" cy="589.3" r="3.45" fill="#FEC36F" stroke="#5A5A5A" stroke-width="0.6"/>
<circle cx="107" cy="568.2" r="3.45" fill="#FEC36F" stroke="#5A5A5A" stroke-width="0.6"/>
</g>
<rect x="55.6" y="517.8" width="151.0" height="74.8" fill="none" stroke="#4A4A4A" stroke-width="1.0"/>
<rect x="55.6" y="496.8" width="151.0" height="21.0" fill="#D9D9D9" stroke="#4A4A4A" stroke-width="1.0"/>
<text x="131.1" y="512.3" font-family='"Liberation Sans", sans-serif' font-size="12.8" fill="#1A1A1A" text-anchor="middle" font-weight="normal" >Lion G</text>
<line x1="52.3" y1="590" x2="55.6" y2="590" stroke="#474747" stroke-width="1.5"/>
<text x="50" y="593.4" font-family='"Liberation Sans", sans-serif' font-size="9.5" fill="#474747" text-anchor="end" font-weight="normal" >0e+00</text>
<line x1="52.3" y1="566.47" x2="55.6" y2="566.47" stroke="#474747" stroke-width="1.5"/>
<text x="50" y="569.87" font-family='"Liberation Sans", sans-serif' font-size="9.5" fill="#474747" text-anchor="end" font-weight="normal" >1e−04</text>
<line x1="52.3" y1="542.94" x2="55.6" y2="542.94" stroke="#474747" stroke-width="1.5"/>
<text x="50" y="546.34" font-family='"Liberation Sans", sans-serif' font-size="9.5" fill="#474747" text-anchor="end" font-weight="normal" >2e−04</text>
<line x1="52.3" y1="519.41" x2="55.6" y2="519.41" stroke="#474747" stroke-width="1.5"/>
<text x="50" y="522.81" font-family='"Liberation Sans", sans-serif' font-size="9.5" fill="#474747" text-anchor="end" font-weight="normal" >3e−04</text>
<line x1="221.2" y1="517.8" x2="221.2" y2="592.6" stroke="#F0F0F0" stroke-width="0.9"/>
<line x1="253.1" y1="517.8" x2="253.1" y2="592.6" stroke="#F0F0F0" stroke-width="0.9"/>
<line x1="285" y1="517.8" x2="285" y2="592.6" stroke="#F0F0F0" stroke-width="0.9"/>
<line x1="315.9" y1="517.8" x2="315.9" y2="592.6" stroke="#F0F0F0" stroke-width="0.9"/>
<line x1="346.8" y1="517.8" x2="346.8" y2="592.6" stroke="#F0F0F0" stroke-width="0.9"/>
<line x1="212.6" y1="578.2" x2="363.6" y2="578.2" stroke="#F0F0F0" stroke-width="0.9"/>
<line x1="212.6" y1="554.7" x2="363.6" y2="554.7" stroke="#F0F0F0" stroke-width="0.9"/>
<line x1="212.6" y1="531.2" x2="363.6" y2="531.2" stroke="#F0F0F0" stroke-width="0.9"/>
<line x1="235.6" y1="517.8" x2="235.6" y2="592.6" stroke="#EBEBEB" stroke-width="1.1"/>
<line x1="270.6" y1="517.8" x2="270.6" y2="592.6" stroke="#EBEBEB" stroke-width="1.1"/>
<line x1="299.4" y1="517.8" x2="299.4" y2="592.6" stroke="#EBEBEB" stroke-width="1.1"/>
<line x1="332.4" y1="517.8" x2="332.4" y2="592.6" stroke="#EBEBEB" stroke-width="1.1"/>
<line x1="361.2" y1="517.8" x2="361.2" y2="592.6" stroke="#EBEBEB" stroke-width="1.1"/>
<line x1="212.6" y1="590" x2="363.6" y2="590" stroke="#EBEBEB" stroke-width="1.1"/>
<line x1="212.6" y1="566.47" x2="363.6" y2="566.47" stroke="#EBEBEB" stroke-width="1.1"/>
<line x1="212.6" y1="542.94" x2="363.6" y2="542.94" stroke="#EBEBEB" stroke-width="1.1"/>
<line x1="212.6" y1="519.41" x2="363.6" y2="519.41" stroke="#EBEBEB" stroke-width="1.1"/>
<g clip-path="url(#cp9)">
<polyline points="233.6,579.9 247.8,589.1 257.9,556.7 264,584.4 276.3,521.2" fill="none" stroke="#FEC36F" stroke-width="1.1"/>
<circle cx="233.6" cy="579.9" r="3.45" fill="#FEC36F" stroke="#5A5A5A" stroke-width="0.6"/>
<circle cx="247.8" cy="589.1" r="3.45" fill="#FEC36F" stroke="#5A5A5A" stroke-width="0.6"/>
<circle cx="257.9" cy="556.7" r="3.45" fill="#FEC36F" stroke="#5A5A5A" stroke-width="0.6"/>
<circle cx="264" cy="584.4" r="3.45" fill="#FEC36F" stroke="#5A5A5A" stroke-width="0.6"/>
<circle cx="276.3" cy="521.2" r="3.45" fill="#FEC36F" stroke="#5A5A5A" stroke-width="0.6"/>
</g>
<rect x="212.6" y="517.8" width="151.0" height="74.8" fill="none" stroke="#4A4A4A" stroke-width="1.0"/>
<rect x="212.6" y="496.8" width="151.0" height="21.0" fill="#D9D9D9" stroke="#4A4A4A" stroke-width="1.0"/>
<text x="288.1" y="512.3" font-family='"Liberation Sans", sans-serif' font-size="12.8" fill="#1A1A1A" text-anchor="middle" font-weight="normal" >Lion H</text>
<line x1="378.2" y1="517.8" x2="378.2" y2="592.6" stroke="#F0F0F0" stroke-width="0.9"/>
<line x1="410.1" y1="517.8" x2="410.1" y2="592.6" stroke="#F0F0F0" stroke-width="0.9"/>
<line x1="442" y1="517.8" x2="442" y2="592.6" stroke="#F0F0F0" stroke-width="0.9"/>
<line x1="472.9" y1="517.8" x2="472.9" y2="592.6" stroke="#F0F0F0" stroke-width="0.9"/>
<line x1="503.8" y1="517.8" x2="503.8" y2="592.6" stroke="#F0F0F0" stroke-width="0.9"/>
<line x1="369.6" y1="578.2" x2="520.6" y2="578.2" stroke="#F0F0F0" stroke-width="0.9"/>
<line x1="369.6" y1="554.7" x2="520.6" y2="554.7" stroke="#F0F0F0" stroke-width="0.9"/>
<line x1="369.6" y1="531.2" x2="520.6" y2="531.2" stroke="#F0F0F0" stroke-width="0.9"/>
<line x1="392.6" y1="517.8" x2="392.6" y2="592.6" stroke="#EBEBEB" stroke-width="1.1"/>
<line x1="427.6" y1="517.8" x2="427.6" y2="592.6" stroke="#EBEBEB" stroke-width="1.1"/>
<line x1="456.4" y1="517.8" x2="456.4" y2="592.6" stroke="#EBEBEB" stroke-width="1.1"/>
<line x1="489.4" y1="517.8" x2="489.4" y2="592.6" stroke="#EBEBEB" stroke-width="1.1"/>
<line x1="518.2" y1="517.8" x2="518.2" y2="592.6" stroke="#EBEBEB" stroke-width="1.1"/>
<line x1="369.6" y1="590" x2="520.6" y2="590" stroke="#EBEBEB" stroke-width="1.1"/>
<line x1="369.6" y1="566.47" x2="520.6" y2="566.47" stroke="#EBEBEB" stroke-width="1.1"/>
<line x1="369.6" y1="542.94" x2="520.6" y2="542.94" stroke="#EBEBEB" stroke-width="1.1"/>
<line x1="369.6" y1="519.41" x2="520.6" y2="519.41" stroke="#EBEBEB" stroke-width="1.1"/>
<g clip-path="url(#cp10)">
<polyline points="390.4,586.8 404.8,580.8 414.9,585.9 421,565.5 433.3,562.8 470.2,565.5 484.6,536.8" fill="none" stroke="#FEC36F" stroke-width="1.1"/>
<circle cx="390.4" cy="586.8" r="3.45" fill="#FEC36F" stroke="#5A5A5A" stroke-width="0.6"/>
<circle cx="404.8" cy="580.8" r="3.45" fill="#FEC36F" stroke="#5A5A5A" stroke-width="0.6"/>
<circle cx="414.9" cy="585.9" r="3.45" fill="#FEC36F" stroke="#5A5A5A" stroke-width="0.6"/>
<circle cx="421" cy="565.5" r="3.45" fill="#FEC36F" stroke="#5A5A5A" stroke-width="0.6"/>
<circle cx="433.3" cy="562.8" r="3.45" fill="#FEC36F" stroke="#5A5A5A" stroke-width="0.6"/>
<circle cx="470.2" cy="565.5" r="3.45" fill="#FEC36F" stroke="#5A5A5A" stroke-width="0.6"/>
<circle cx="484.6" cy="536.8" r="3.45" fill="#FEC36F" stroke="#5A5A5A" stroke-width="0.6"/>
</g>
<rect x="369.6" y="517.8" width="151.0" height="74.8" fill="none" stroke="#4A4A4A" stroke-width="1.0"/>
<rect x="369.6" y="496.8" width="151.0" height="21.0" fill="#D9D9D9" stroke="#4A4A4A" stroke-width="1.0"/>
<text x="445.1" y="512.3" font-family='"Liberation Sans", sans-serif' font-size="12.8" fill="#1A1A1A" text-anchor="middle" font-weight="normal" >Lion I</text>
<line x1="535.2" y1="517.8" x2="535.2" y2="592.6" stroke="#F0F0F0" stroke-width="0.9"/>
<line x1="567.1" y1="517.8" x2="567.1" y2="592.6" stroke="#F0F0F0" stroke-width="0.9"/>
<line x1="599" y1="517.8" x2="599" y2="592.6" stroke="#F0F0F0" stroke-width="0.9"/>
<line x1="629.9" y1="517.8" x2="629.9" y2="592.6" stroke="#F0F0F0" stroke-width="0.9"/>
<line x1="660.8" y1="517.8" x2="660.8" y2="592.6" stroke="#F0F0F0" stroke-width="0.9"/>
<line x1="526.6" y1="578.2" x2="677.6" y2="578.2" stroke="#F0F0F0" stroke-width="0.9"/>
<line x1="526.6" y1="554.7" x2="677.6" y2="554.7" stroke="#F0F0F0" stroke-width="0.9"/>
<line x1="526.6" y1="531.2" x2="677.6" y2="531.2" stroke="#F0F0F0" stroke-width="0.9"/>
<line x1="549.6" y1="517.8" x2="549.6" y2="592.6" stroke="#EBEBEB" stroke-width="1.1"/>
<line x1="584.6" y1="517.8" x2="584.6" y2="592.6" stroke="#EBEBEB" stroke-width="1.1"/>
<line x1="613.4" y1="517.8" x2="613.4" y2="592.6" stroke="#EBEBEB" stroke-width="1.1"/>
<line x1="646.4" y1="517.8" x2="646.4" y2="592.6" stroke="#EBEBEB" stroke-width="1.1"/>
<line x1="675.2" y1="517.8" x2="675.2" y2="592.6" stroke="#EBEBEB" stroke-width="1.1"/>
<line x1="526.6" y1="590" x2="677.6" y2="590" stroke="#EBEBEB" stroke-width="1.1"/>
<line x1="526.6" y1="566.47" x2="677.6" y2="566.47" stroke="#EBEBEB" stroke-width="1.1"/>
<line x1="526.6" y1="542.94" x2="677.6" y2="542.94" stroke="#EBEBEB" stroke-width="1.1"/>
<line x1="526.6" y1="519.41" x2="677.6" y2="519.41" stroke="#EBEBEB" stroke-width="1.1"/>
<g clip-path="url(#cp11)">
<polyline points="547.4,586.6 561.8,586.2 571.7,527.3" fill="none" stroke="#FEC36F" stroke-width="1.1"/>
<circle cx="547.4" cy="586.6" r="3.45" fill="#FEC36F" stroke="#5A5A5A" stroke-width="0.6"/>
<circle cx="561.8" cy="586.2" r="3.45" fill="#FEC36F" stroke="#5A5A5A" stroke-width="0.6"/>
<circle cx="571.7" cy="527.3" r="3.45" fill="#FEC36F" stroke="#5A5A5A" stroke-width="0.6"/>
</g>
<rect x="526.6" y="517.8" width="151.0" height="74.8" fill="none" stroke="#4A4A4A" stroke-width="1.0"/>
<rect x="526.6" y="496.8" width="151.0" height="21.0" fill="#D9D9D9" stroke="#4A4A4A" stroke-width="1.0"/>
<text x="602.1" y="512.3" font-family='"Liberation Sans", sans-serif' font-size="12.8" fill="#1A1A1A" text-anchor="middle" font-weight="normal" >Lion J</text>
<line x1="64.2" y1="620" x2="64.2" y2="694.8" stroke="#F0F0F0" stroke-width="0.9"/>
<line x1="96.1" y1="620" x2="96.1" y2="694.8" stroke="#F0F0F0" stroke-width="0.9"/>
<line x1="128" y1="620" x2="128" y2="694.8" stroke="#F0F0F0" stroke-width="0.9"/>
<line x1="158.9" y1="620" x2="158.9" y2="694.8" stroke="#F0F0F0" stroke-width="0.9"/>
<line x1="189.8" y1="620" x2="189.8" y2="694.8" stroke="#F0F0F0" stroke-width="0.9"/>
<line x1="55.6" y1="680.4" x2="206.6" y2="680.4" stroke="#F0F0F0" stroke-width="0.9"/>
<line x1="55.6" y1="656.9" x2="206.6" y2="656.9" stroke="#F0F0F0" stroke-width="0.9"/>
<line x1="55.6" y1="633.4" x2="206.6" y2="633.4" stroke="#F0F0F0" stroke-width="0.9"/>
<line x1="78.6" y1="620" x2="78.6" y2="694.8" stroke="#EBEBEB" stroke-width="1.1"/>
<line x1="113.6" y1="620" x2="113.6" y2="694.8" stroke="#EBEBEB" stroke-width="1.1"/>
<line x1="142.4" y1="620" x2="142.4" y2="694.8" stroke="#EBEBEB" stroke-width="1.1"/>
<line x1="175.4" y1="620" x2="175.4" y2="694.8" stroke="#EBEBEB" stroke-width="1.1"/>
<line x1="204.2" y1="620" x2="204.2" y2="694.8" stroke="#EBEBEB" stroke-width="1.1"/>
<line x1="55.6" y1="692.2" x2="206.6" y2="692.2" stroke="#EBEBEB" stroke-width="1.1"/>
<line x1="55.6" y1="668.67" x2="206.6" y2="668.67" stroke="#EBEBEB" stroke-width="1.1"/>
<line x1="55.6" y1="645.14" x2="206.6" y2="645.14" stroke="#EBEBEB" stroke-width="1.1"/>
<line x1="55.6" y1="621.61" x2="206.6" y2="621.61" stroke="#EBEBEB" stroke-width="1.1"/>
<g clip-path="url(#cp12)">
<polyline points="76.6,688.4 90.8,690 100.9,667.3 107,658.9" fill="none" stroke="#FEC36F" stroke-width="1.1"/>
<circle cx="76.6" cy="688.4" r="3.45" fill="#FEC36F" stroke="#5A5A5A" stroke-width="0.6"/>
<circle cx="90.8" cy="690" r="3.45" fill="#FEC36F" stroke="#5A5A5A" stroke-width="0.6"/>
<circle cx="100.9" cy="667.3" r="3.45" fill="#FEC36F" stroke="#5A5A5A" stroke-width="0.6"/>
<circle cx="107" cy="658.9" r="3.45" fill="#FEC36F" stroke="#5A5A5A" stroke-width="0.6"/>
</g>
<rect x="55.6" y="620.0" width="151.0" height="74.8" fill="none" stroke="#4A4A4A" stroke-width="1.0"/>
<rect x="55.6" y="599" width="151.0" height="21.0" fill="#D9D9D9" stroke="#4A4A4A" stroke-width="1.0"/>
<text x="131.1" y="614.5" font-family='"Liberation Sans", sans-serif' font-size="12.8" fill="#1A1A1A" text-anchor="middle" font-weight="normal" >Lion K</text>
<line x1="52.3" y1="692.2" x2="55.6" y2="692.2" stroke="#474747" stroke-width="1.5"/>
<text x="50" y="695.6" font-family='"Liberation Sans", sans-serif' font-size="9.5" fill="#474747" text-anchor="end" font-weight="normal" >0e+00</text>
<line x1="52.3" y1="668.67" x2="55.6" y2="668.67" stroke="#474747" stroke-width="1.5"/>
<text x="50" y="672.07" font-family='"Liberation Sans", sans-serif' font-size="9.5" fill="#474747" text-anchor="end" font-weight="normal" >1e−04</text>
<line x1="52.3" y1="645.14" x2="55.6" y2="645.14" stroke="#474747" stroke-width="1.5"/>
<text x="50" y="648.54" font-family='"Liberation Sans", sans-serif' font-size="9.5" fill="#474747" text-anchor="end" font-weight="normal" >2e−04</text>
<line x1="52.3" y1="621.61" x2="55.6" y2="621.61" stroke="#474747" stroke-width="1.5"/>
<text x="50" y="625.01" font-family='"Liberation Sans", sans-serif' font-size="9.5" fill="#474747" text-anchor="end" font-weight="normal" >3e−04</text>
<line x1="78.6" y1="694.8" x2="78.6" y2="698.1" stroke="#474747" stroke-width="1.5"/>
<text transform="translate(85.6,706) rotate(-60)" font-family='"Liberation Sans", sans-serif' font-size="12.2" fill="#474747" text-anchor="end">Oct 15</text>
<line x1="113.6" y1="694.8" x2="113.6" y2="698.1" stroke="#474747" stroke-width="1.5"/>
<text transform="translate(120.6,706) rotate(-60)" font-family='"Liberation Sans", sans-serif' font-size="12.2" fill="#474747" text-anchor="end">Nov 01</text>
<line x1="142.4" y1="694.8" x2="142.4" y2="698.1" stroke="#474747" stroke-width="1.5"/>
<text transform="translate(149.4,706) rotate(-60)" font-family='"Liberation Sans", sans-serif' font-size="12.2" fill="#474747" text-anchor="end">Nov 15</text>
<line x1="175.4" y1="694.8" x2="175.4" y2="698.1" stroke="#474747" stroke-width="1.5"/>
<text transform="translate(182.4,706) rotate(-60)" font-family='"Liberation Sans", sans-serif' font-size="12.2" fill="#474747" text-anchor="end">Dec 01</text>
<line x1="204.2" y1="694.8" x2="204.2" y2="698.1" stroke="#474747" stroke-width="1.5"/>
<text transform="translate(211.2,706) rotate(-60)" font-family='"Liberation Sans", sans-serif' font-size="12.2" fill="#474747" text-anchor="end">Dec 15</text>
<line x1="221.2" y1="620" x2="221.2" y2="694.8" stroke="#F0F0F0" stroke-width="0.9"/>
<line x1="253.1" y1="620" x2="253.1" y2="694.8" stroke="#F0F0F0" stroke-width="0.9"/>
<line x1="285" y1="620" x2="285" y2="694.8" stroke="#F0F0F0" stroke-width="0.9"/>
<line x1="315.9" y1="620" x2="315.9" y2="694.8" stroke="#F0F0F0" stroke-width="0.9"/>
<line x1="346.8" y1="620" x2="346.8" y2="694.8" stroke="#F0F0F0" stroke-width="0.9"/>
<line x1="212.6" y1="680.4" x2="363.6" y2="680.4" stroke="#F0F0F0" stroke-width="0.9"/>
<line x1="212.6" y1="656.9" x2="363.6" y2="656.9" stroke="#F0F0F0" stroke-width="0.9"/>
<line x1="212.6" y1="633.4" x2="363.6" y2="633.4" stroke="#F0F0F0" stroke-width="0.9"/>
<line x1="235.6" y1="620" x2="235.6" y2="694.8" stroke="#EBEBEB" stroke-width="1.1"/>
<line x1="270.6" y1="620" x2="270.6" y2="694.8" stroke="#EBEBEB" stroke-width="1.1"/>
<line x1="299.4" y1="620" x2="299.4" y2="694.8" stroke="#EBEBEB" stroke-width="1.1"/>
<line x1="332.4" y1="620" x2="332.4" y2="694.8" stroke="#EBEBEB" stroke-width="1.1"/>
<line x1="361.2" y1="620" x2="361.2" y2="694.8" stroke="#EBEBEB" stroke-width="1.1"/>
<line x1="212.6" y1="692.2" x2="363.6" y2="692.2" stroke="#EBEBEB" stroke-width="1.1"/>
<line x1="212.6" y1="668.67" x2="363.6" y2="668.67" stroke="#EBEBEB" stroke-width="1.1"/>
<line x1="212.6" y1="645.14" x2="363.6" y2="645.14" stroke="#EBEBEB" stroke-width="1.1"/>
<line x1="212.6" y1="621.61" x2="363.6" y2="621.61" stroke="#EBEBEB" stroke-width="1.1"/>
<g clip-path="url(#cp13)">
<polyline points="262.2,679.4 272.3,691.1 276.3,688.4 288.7,650.6" fill="none" stroke="#7F7FFF" stroke-width="1.1"/>
<circle cx="262.2" cy="679.4" r="3.45" fill="#8080FF" stroke="#5A5A5A" stroke-width="0.6"/>
<circle cx="272.3" cy="691.1" r="3.45" fill="#8080FF" stroke="#5A5A5A" stroke-width="0.6"/>
<circle cx="276.3" cy="688.4" r="3.45" fill="#8080FF" stroke="#5A5A5A" stroke-width="0.6"/>
<circle cx="288.7" cy="650.6" r="3.45" fill="#8080FF" stroke="#5A5A5A" stroke-width="0.6"/>
</g>
<rect x="212.6" y="620.0" width="151.0" height="74.8" fill="none" stroke="#4A4A4A" stroke-width="1.0"/>
<rect x="212.6" y="599" width="151.0" height="21.0" fill="#D9D9D9" stroke="#4A4A4A" stroke-width="1.0"/>
<text x="288.1" y="614.5" font-family='"Liberation Sans", sans-serif' font-size="12.8" fill="#1A1A1A" text-anchor="middle" font-weight="normal" >Hyena A</text>
<line x1="235.6" y1="694.8" x2="235.6" y2="698.1" stroke="#474747" stroke-width="1.5"/>
<text transform="translate(242.6,706) rotate(-60)" font-family='"Liberation Sans", sans-serif' font-size="12.2" fill="#474747" text-anchor="end">Oct 15</text>
<line x1="270.6" y1="694.8" x2="270.6" y2="698.1" stroke="#474747" stroke-width="1.5"/>
<text transform="translate(277.6,706) rotate(-60)" font-family='"Liberation Sans", sans-serif' font-size="12.2" fill="#474747" text-anchor="end">Nov 01</text>
<line x1="299.4" y1="694.8" x2="299.4" y2="698.1" stroke="#474747" stroke-width="1.5"/>
<text transform="translate(306.4,706) rotate(-60)" font-family='"Liberation Sans", sans-serif' font-size="12.2" fill="#474747" text-anchor="end">Nov 15</text>
<line x1="332.4" y1="694.8" x2="332.4" y2="698.1" stroke="#474747" stroke-width="1.5"/>
<text transform="translate(339.4,706) rotate(-60)" font-family='"Liberation Sans", sans-serif' font-size="12.2" fill="#474747" text-anchor="end">Dec 01</text>
<line x1="361.2" y1="694.8" x2="361.2" y2="698.1" stroke="#474747" stroke-width="1.5"/>
<text transform="translate(368.2,706) rotate(-60)" font-family='"Liberation Sans", sans-serif' font-size="12.2" fill="#474747" text-anchor="end">Dec 15</text>
<line x1="378.2" y1="620" x2="378.2" y2="694.8" stroke="#F0F0F0" stroke-width="0.9"/>
<line x1="410.1" y1="620" x2="410.1" y2="694.8" stroke="#F0F0F0" stroke-width="0.9"/>
<line x1="442" y1="620" x2="442" y2="694.8" stroke="#F0F0F0" stroke-width="0.9"/>
<line x1="472.9" y1="620" x2="472.9" y2="694.8" stroke="#F0F0F0" stroke-width="0.9"/>
<line x1="503.8" y1="620" x2="503.8" y2="694.8" stroke="#F0F0F0" stroke-width="0.9"/>
<line x1="369.6" y1="680.4" x2="520.6" y2="680.4" stroke="#F0F0F0" stroke-width="0.9"/>
<line x1="369.6" y1="656.9" x2="520.6" y2="656.9" stroke="#F0F0F0" stroke-width="0.9"/>
<line x1="369.6" y1="633.4" x2="520.6" y2="633.4" stroke="#F0F0F0" stroke-width="0.9"/>
<line x1="392.6" y1="620" x2="392.6" y2="694.8" stroke="#EBEBEB" stroke-width="1.1"/>
<line x1="427.6" y1="620" x2="427.6" y2="694.8" stroke="#EBEBEB" stroke-width="1.1"/>
<line x1="456.4" y1="620" x2="456.4" y2="694.8" stroke="#EBEBEB" stroke-width="1.1"/>
<line x1="489.4" y1="620" x2="489.4" y2="694.8" stroke="#EBEBEB" stroke-width="1.1"/>
<line x1="518.2" y1="620" x2="518.2" y2="694.8" stroke="#EBEBEB" stroke-width="1.1"/>
<line x1="369.6" y1="692.2" x2="520.6" y2="692.2" stroke="#EBEBEB" stroke-width="1.1"/>
<line x1="369.6" y1="668.67" x2="520.6" y2="668.67" stroke="#EBEBEB" stroke-width="1.1"/>
<line x1="369.6" y1="645.14" x2="520.6" y2="645.14" stroke="#EBEBEB" stroke-width="1.1"/>
<line x1="369.6" y1="621.61" x2="520.6" y2="621.61" stroke="#EBEBEB" stroke-width="1.1"/>
<g clip-path="url(#cp14)">
<circle cx="419.2" cy="672" r="3.45" fill="#8080FF" stroke="#5A5A5A" stroke-width="0.6"/>
</g>
<rect x="369.6" y="620.0" width="151.0" height="74.8" fill="none" stroke="#4A4A4A" stroke-width="1.0"/>
<rect x="369.6" y="599" width="151.0" height="21.0" fill="#D9D9D9" stroke="#4A4A4A" stroke-width="1.0"/>
<text x="445.1" y="614.5" font-family='"Liberation Sans", sans-serif' font-size="12.8" fill="#1A1A1A" text-anchor="middle" font-weight="normal" >Hyena B</text>
<line x1="392.6" y1="694.8" x2="392.6" y2="698.1" stroke="#474747" stroke-width="1.5"/>
<text transform="translate(399.6,706) rotate(-60)" font-family='"Liberation Sans", sans-serif' font-size="12.2" fill="#474747" text-anchor="end">Oct 15</text>
<line x1="427.6" y1="694.8" x2="427.6" y2="698.1" stroke="#474747" stroke-width="1.5"/>
<text transform="translate(434.6,706) rotate(-60)" font-family='"Liberation Sans", sans-serif' font-size="12.2" fill="#474747" text-anchor="end">Nov 01</text>
<line x1="456.4" y1="694.8" x2="456.4" y2="698.1" stroke="#474747" stroke-width="1.5"/>
<text transform="translate(463.4,706) rotate(-60)" font-family='"Liberation Sans", sans-serif' font-size="12.2" fill="#474747" text-anchor="end">Nov 15</text>
<line x1="489.4" y1="694.8" x2="489.4" y2="698.1" stroke="#474747" stroke-width="1.5"/>
<text transform="translate(496.4,706) rotate(-60)" font-family='"Liberation Sans", sans-serif' font-size="12.2" fill="#474747" text-anchor="end">Dec 01</text>
<line x1="518.2" y1="694.8" x2="518.2" y2="698.1" stroke="#474747" stroke-width="1.5"/>
<text transform="translate(525.2,706) rotate(-60)" font-family='"Liberation Sans", sans-serif' font-size="12.2" fill="#474747" text-anchor="end">Dec 15</text>
<line x1="535.2" y1="620" x2="535.2" y2="694.8" stroke="#F0F0F0" stroke-width="0.9"/>
<line x1="567.1" y1="620" x2="567.1" y2="694.8" stroke="#F0F0F0" stroke-width="0.9"/>
<line x1="599" y1="620" x2="599" y2="694.8" stroke="#F0F0F0" stroke-width="0.9"/>
<line x1="629.9" y1="620" x2="629.9" y2="694.8" stroke="#F0F0F0" stroke-width="0.9"/>
<line x1="660.8" y1="620" x2="660.8" y2="694.8" stroke="#F0F0F0" stroke-width="0.9"/>
<line x1="526.6" y1="680.4" x2="677.6" y2="680.4" stroke="#F0F0F0" stroke-width="0.9"/>
<line x1="526.6" y1="656.9" x2="677.6" y2="656.9" stroke="#F0F0F0" stroke-width="0.9"/>
<line x1="526.6" y1="633.4" x2="677.6" y2="633.4" stroke="#F0F0F0" stroke-width="0.9"/>
<line x1="549.6" y1="620" x2="549.6" y2="694.8" stroke="#EBEBEB" stroke-width="1.1"/>
<line x1="584.6" y1="620" x2="584.6" y2="694.8" stroke="#EBEBEB" stroke-width="1.1"/>
<line x1="613.4" y1="620" x2="613.4" y2="694.8" stroke="#EBEBEB" stroke-width="1.1"/>
<line x1="646.4" y1="620" x2="646.4" y2="694.8" stroke="#EBEBEB" stroke-width="1.1"/>
<line x1="675.2" y1="620" x2="675.2" y2="694.8" stroke="#EBEBEB" stroke-width="1.1"/>
<line x1="526.6" y1="692.2" x2="677.6" y2="692.2" stroke="#EBEBEB" stroke-width="1.1"/>
<line x1="526.6" y1="668.67" x2="677.6" y2="668.67" stroke="#EBEBEB" stroke-width="1.1"/>
<line x1="526.6" y1="645.14" x2="677.6" y2="645.14" stroke="#EBEBEB" stroke-width="1.1"/>
<line x1="526.6" y1="621.61" x2="677.6" y2="621.61" stroke="#EBEBEB" stroke-width="1.1"/>
<g clip-path="url(#cp15)">
<circle cx="627.2" cy="684.8" r="3.45" fill="#8080FF" stroke="#5A5A5A" stroke-width="0.6"/>
</g>
<rect x="526.6" y="620.0" width="151.0" height="74.8" fill="none" stroke="#4A4A4A" stroke-width="1.0"/>
<rect x="526.6" y="599" width="151.0" height="21.0" fill="#D9D9D9" stroke="#4A4A4A" stroke-width="1.0"/>
<text x="602.1" y="614.5" font-family='"Liberation Sans", sans-serif' font-size="12.8" fill="#1A1A1A" text-anchor="middle" font-weight="normal" >Hyena D</text>
<line x1="549.6" y1="694.8" x2="549.6" y2="698.1" stroke="#474747" stroke-width="1.5"/>
<text transform="translate(556.6,706) rotate(-60)" font-family='"Liberation Sans", sans-serif' font-size="12.2" fill="#474747" text-anchor="end">Oct 15</text>
<line x1="584.6" y1="694.8" x2="584.6" y2="698.1" stroke="#474747" stroke-width="1.5"/>
<text transform="translate(591.6,706) rotate(-60)" font-family='"Liberation Sans", sans-serif' font-size="12.2" fill="#474747" text-anchor="end">Nov 01</text>
<line x1="613.4" y1="694.8" x2="613.4" y2="698.1" stroke="#474747" stroke-width="1.5"/>
<text transform="translate(620.4,706) rotate(-60)" font-family='"Liberation Sans", sans-serif' font-size="12.2" fill="#474747" text-anchor="end">Nov 15</text>
<line x1="646.4" y1="694.8" x2="646.4" y2="698.1" stroke="#474747" stroke-width="1.5"/>
<text transform="translate(653.4,706) rotate(-60)" font-family='"Liberation Sans", sans-serif' font-size="12.2" fill="#474747" text-anchor="end">Dec 01</text>
<line x1="675.2" y1="694.8" x2="675.2" y2="698.1" stroke="#474747" stroke-width="1.5"/>
<text transform="translate(682.2,706) rotate(-60)" font-family='"Liberation Sans", sans-serif' font-size="12.2" fill="#474747" text-anchor="end">Dec 15</text>
<text x="366.6" y="754.7" font-family='"Liberation Sans", sans-serif' font-size="14.8" fill="#000" text-anchor="middle" font-weight="normal" >Collection date</text>
<g transform="translate(13.6,630.7) rotate(-90)">
<text x="0" y="0" font-family='"Liberation Sans", sans-serif' font-size="14.8" fill="#000" text-anchor="start" font-weight="normal" >Synonymous nucleotide diversity</text>
</g>
<path d="M32.9,15.3 C34.94,9.23 47.86,9.23 49.9,15.3 C47.86,11.23 34.94,11.23 32.9,15.3 Z" fill="#000" stroke="#000" stroke-width="0.45" stroke-linejoin="round"/>
<path d="M32.9,25.1 C34.94,31.17 47.86,31.17 49.9,25.1 C47.86,29.17 34.94,29.17 32.9,25.1 Z" fill="#000" stroke="#000" stroke-width="0.45" stroke-linejoin="round"/>
<g transform="translate(46.2,23.6) rotate(-90)"><text x="0" y="0" font-family='"Liberation Serif", serif' font-size="13.8" fill="#000">π</text></g>
<path d="M0.3,383.3 C2.34,376.83 15.26,376.83 17.3,383.3 C15.26,378.83 2.34,378.83 0.3,383.3 Z" fill="#000" stroke="#000" stroke-width="0.45" stroke-linejoin="round"/>
<path d="M0.3,406 C2.34,411.8 15.26,411.8 17.3,406 C15.26,409.8 2.34,409.8 0.3,406 Z" fill="#000" stroke="#000" stroke-width="0.45" stroke-linejoin="round"/>
<g transform="translate(14.0,404.9) rotate(-90)"><text x="0" y="0" font-family='"Liberation Serif", serif' font-size="13.8" fill="#000">π</text></g>
<g transform="translate(14.0,394.0) rotate(-90)"><text x="0" y="0" font-family='"Liberation Sans", sans-serif' font-size="15.2" fill="#000">S</text></g>
</svg>
</div></body></html>
